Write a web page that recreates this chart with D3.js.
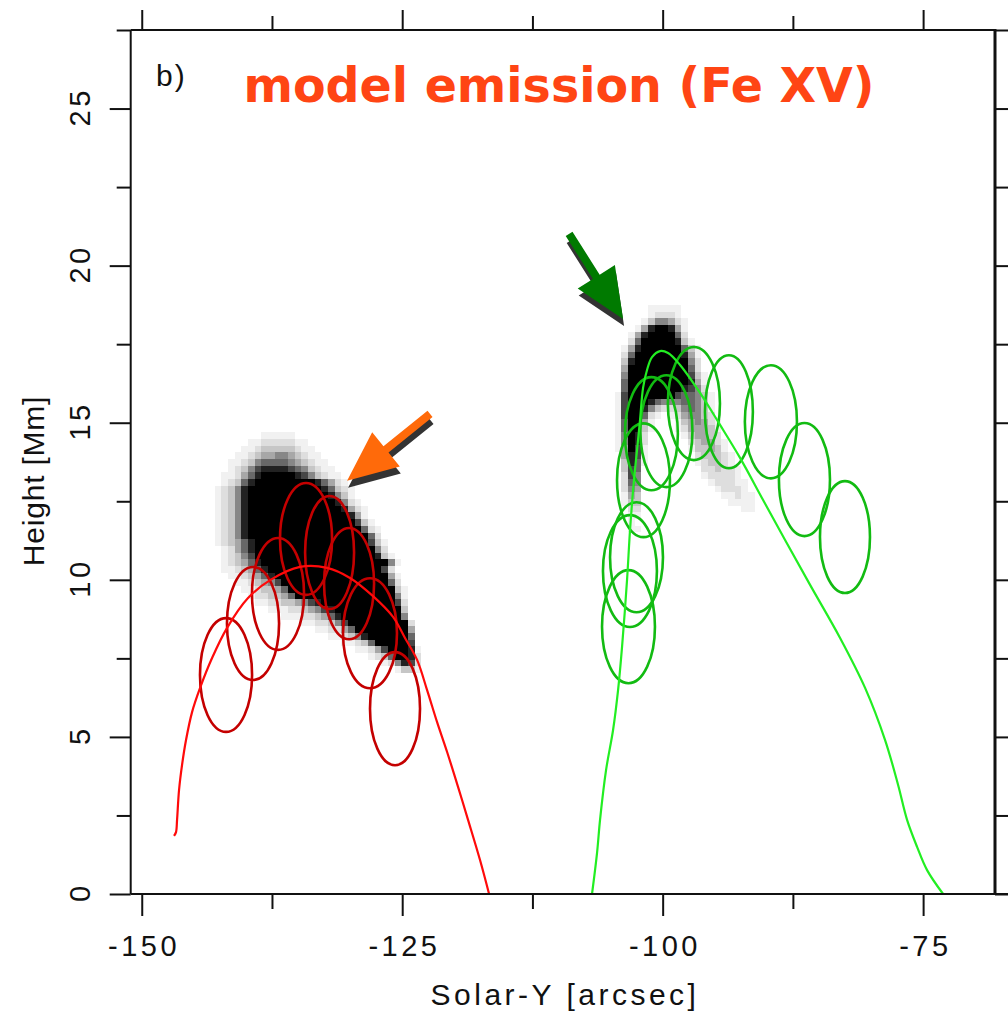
<!DOCTYPE html>
<html>
<head>
<meta charset="utf-8">
<script src="https://cdn.jsdelivr.net/npm/d3@7"></script>
<style>
  body { margin: 0; background: #ffffff; }
  text { font-family: "Liberation Sans", Arial, sans-serif; }
</style>
</head>
<body>
<div id="chart"></div>
<script>
// axis ticks
var xMajorTicks = [-150, -125, -100, -75];
var xMinorTicks = [-137.5, -112.5, -87.5];
var yMajorTicks = [0, 5, 10, 15, 20, 25];
var yMinorTicks = [2.5, 7.5, 12.5, 17.5, 22.5, 27.5];
var rightTicks = [0, 2.5, 5, 7.5, 10, 12.5, 15, 17.5, 20, 22.5, 25, 27.5];

// red loop (solar-Y arcsec, height Mm)
var redLoopX = [-146.90, -146.71, -146.61, -146.42, -146.13, -145.75, -145.17, -144.40, -143.25, -141.81,
  -139.80, -137.68, -134.81, -132.21, -130.01, -127.80, -125.88, -124.73, -123.57, -122.61,
  -121.65, -120.69, -119.64, -118.68, -117.53, -116.66];
var redLoopY = [1.85, 1.97, 2.36, 3.31, 4.11, 4.90, 5.79, 6.56, 7.51, 8.47,
  9.42, 9.99, 10.41, 10.38, 10.06, 9.48, 8.82, 8.15, 7.45, 6.49,
  5.47, 4.52, 3.41, 2.36, 1.08, 0];

// green loop
var greenLoopX = [-106.78, -106.30, -106.01, -105.43, -104.76, -104.28, -103.90, -103.42, -103.13, -102.75,
  -102.46, -102.17, -101.88, -101.50, -101.02, -100.25, -99.48, -98.33, -96.41, -94.49,
  -92.57, -90.36, -88.25, -85.85, -82.97, -80.57, -78.65, -77.40, -76.54, -75.58, -74.62, -73.08];
var greenLoopY = [0, 1.30, 2.36, 3.95, 5.22, 6.49, 7.86, 9.99, 11.59, 13.18,
  14.13, 15.09, 16.11, 16.68, 17.09, 17.28, 17.22, 16.84, 15.95, 14.93,
  13.88, 12.54, 11.27, 9.84, 8.15, 6.56, 4.90, 3.47, 2.36, 1.50, 0.76, 0];

// ellipses along the red loop
var redEllX = [-141.91, -139.32, -136.92, -134.23, -131.97, -130.10, -128.09, -125.69];
var redEllY = [6.97, 8.61, 9.55, 11.30, 10.87, 9.88, 8.30, 5.90];
var redEllRx = [2.50, 2.50, 2.50, 2.50, 2.35, 2.40, 2.59, 2.40];
var redEllRy = [1.81, 1.80, 1.78, 1.78, 1.80, 1.77, 1.75, 1.80];

// ellipses along the green loop
var greenEllX = [-103.28, -103.14, -102.51, -101.84, -101.08, -99.64, -97.00, -93.64, -89.61, -86.39, -82.50];
var greenEllY = [8.51, 10.28, 10.72, 13.17, 14.65, 14.73, 15.61, 15.35, 15.03, 13.19, 11.36];
var greenEllRx = [2.54, 2.59, 2.54, 2.54, 2.54, 2.50, 2.50, 2.30, 2.50, 2.45, 2.40];
var greenEllRy = [1.80, 1.78, 1.75, 1.81, 1.80, 1.78, 1.80, 1.80, 1.80, 1.80, 1.78];

// model emission image, intensity 0 (none) .. 9 (max), one char per pixel
var pixelW = 0.64;   // arcsec
var pixelH = 0.213;  // Mm
var redImgX0 = -143.0, redImgY0 = 14.7;
var redImg = [
  "00000001111100000000000000000000",
  "00000112222211000000000000000000",
  "00001123333321100000000000000000",
  "00011234455432110000000000000000",
  "00112356666543211000000000000000",
  "00123578888765321100000000000000",
  "01124689999987532110000000000000",
  "01236899999999986421000000000000",
  "12358999999999998632100000000000",
  "12358999999999999853100000000000",
  "12358999999999999985210000000000",
  "12358999999999999998421000000000",
  "12358999999999999999841000000000",
  "12358999999999999999973100000000",
  "12358999999999999999996210000000",
  "12358999999999999999999620000000",
  "12346899999999999999999731000000",
  "01246899999999999999999952000000",
  "01235799999999999999999983100000",
  "01234689999999999999999999510000",
  "01123468999999999999999997200000",
  "00112346899999999999999999410000",
  "00011234579999999999999999620000",
  "00001123346999999999999999931000",
  "00000122334699999999999999951000",
  "00000011223345789999999999972000",
  "00000000111223457899999999993000",
  "00000000001112234689999999995000",
  "00000000000001122357999999999200",
  "00000000000000011224699999999400",
  "00000000000000000112358999999600",
  "00000000000000000001123699999700",
  "00000000000000000000011247999810",
  "00000000000000000000000123699820",
  "00000000000000000000000001258720",
  "00000000000000000000000000013310"
];
var greenImgX0 = -104.6, greenImgY0 = 18.75;
var greenImg = [
  "00000111110000000000000",
  "00000122210000000000000",
  "00001355421000000000000",
  "00014899841000000000000",
  "00148999962000000000000",
  "00269999983100000000000",
  "01489999996310000000000",
  "02699999998410000000000",
  "03899999999520000000000",
  "04999999999620000000000",
  "05999999999731000000000",
  "06999999999841000000000",
  "06999999998752000000000",
  "17999999976653100000000",
  "17999865556653100000000",
  "17998532235653100000000",
  "17996210124553200000000",
  "16994100013454210000000",
  "16993100012444310000000",
  "15982000001344320000000",
  "15982000000234421000000",
  "14971000000133431000000",
  "04871000000023332100000",
  "03861000000012332100000",
  "03760000000002232210000",
  "02750000000001222210000",
  "02650000000000122211000",
  "02540000000000012221000",
  "01430000000000001121100",
  "01330000000000000111100",
  "00220000000000000001100",
  "00110000000000000000000",
  "00100000000000000000000",
  "00110000000000000000000"
];

// annotation arrows: tail -> tip
var arrowTailX = [-122.33, -108.98];
var arrowTailY = [15.28, 21.01];
var arrowTipX = [-130.29, -103.80];
var arrowTipY = [13.15, 18.30];

//create space for the plot
var svgWidth = 1008;
var svgHeight = 1012;

var plotLeft = 130.7, plotRight = 995, plotTop = 30, plotBottom = 894;

var svg = d3.select("#chart")
  .append("svg")
  .attr("width", svgWidth)
  .attr("height", svgHeight);

var xScale = d3.scaleLinear()
  .domain([-151.06, -68.1])
  .range([plotLeft, plotRight]);

var yScale = d3.scaleLinear()
  .domain([0, 27.5])
  .range([plotBottom, plotTop]);

var grey = d3.scaleSequential(d3.interpolateGreys).domain([0, 9]);

// emission pixels
function imageCells(rows, x0, y0) {
  var cells = [];
  rows.forEach(function(row, r) {
    row.split("").forEach(function(ch, c) {
      if (+ch > 0) cells.push({x: x0 + c * pixelW, y: y0 - r * pixelH, v: +ch});
    });
  });
  return cells;
}
var cells = imageCells(redImg, redImgX0, redImgY0).concat(imageCells(greenImg, greenImgX0, greenImgY0));

svg.append("g")
  .selectAll("rect")
  .data(cells)
  .enter()
  .append("rect")
  .attr("x", d => xScale(d.x))
  .attr("y", d => yScale(d.y))
  .attr("width", d => xScale(d.x + pixelW) - xScale(d.x))
  .attr("height", d => yScale(d.y - pixelH) - yScale(d.y))
  .attr("fill", d => grey(d.v))
  .attr("shape-rendering", "crispEdges");

// ellipses
function drawEllipses(xs, ys, rxs, rys, color) {
  svg.append("g")
    .selectAll("ellipse")
    .data(xs.map((x, i) => ({x: x, y: ys[i], rx: rxs[i], ry: rys[i]})))
    .enter()
    .append("ellipse")
    .attr("cx", d => xScale(d.x))
    .attr("cy", d => yScale(d.y))
    .attr("rx", d => xScale(d.x + d.rx) - xScale(d.x))
    .attr("ry", d => yScale(d.y) - yScale(d.y + d.ry))
    .attr("fill", "none")
    .attr("stroke", color)
    .attr("stroke-width", 2.6);
}
drawEllipses(redEllX, redEllY, redEllRx, redEllRy, "#c40000");
drawEllipses(greenEllX, greenEllY, greenEllRx, greenEllRy, "#12bb12");

// loops
var line = d3.line()
  .x(d => xScale(d[0]))
  .y(d => yScale(d[1]))
  .curve(d3.curveCatmullRom);

svg.append("path")
  .attr("d", line(d3.zip(redLoopX, redLoopY)))
  .attr("fill", "none")
  .attr("stroke", "#ff0a0a")
  .attr("stroke-width", 2.2);

svg.append("path")
  .attr("d", line(d3.zip(greenLoopX, greenLoopY)))
  .attr("fill", "none")
  .attr("stroke", "#22ee22")
  .attr("stroke-width", 2.2);

// arrows with drop shadow
function arrowPoints(x1, y1, x2, y2) {
  var dx = x2 - x1, dy = y2 - y1;
  var len = Math.sqrt(dx * dx + dy * dy);
  var ux = dx / len, uy = dy / len;
  var nx = -uy, ny = ux;
  var headLen = 50, headW = 22, shaftW = 4;
  var bx = x2 - ux * headLen, by = y2 - uy * headLen;
  return [
    [x1 + nx * shaftW, y1 + ny * shaftW],
    [bx + nx * shaftW, by + ny * shaftW],
    [bx + nx * headW, by + ny * headW],
    [x2, y2],
    [bx - nx * headW, by - ny * headW],
    [bx - nx * shaftW, by - ny * shaftW],
    [x1 - nx * shaftW, y1 - ny * shaftW]
  ];
}
var arrowColors = ["#ff6a0a", "#007a00"];
arrowTailX.forEach(function(tx, i) {
  var pts = arrowPoints(xScale(tx), yScale(arrowTailY[i]), xScale(arrowTipX[i]), yScale(arrowTipY[i]));
  svg.append("polygon")
    .attr("points", pts.map(p => [p[0] + 1, p[1] + 7].join(",")).join(" "))
    .attr("fill", "#333333");
  svg.append("polygon")
    .attr("points", pts.map(p => p.join(",")).join(" "))
    .attr("fill", arrowColors[i]);
});

// axes frame
var axisColor = "#111111";
svg.append("line").attr("x1", plotLeft).attr("x2", plotLeft).attr("y1", plotTop).attr("y2", plotBottom)
  .attr("stroke", axisColor).attr("stroke-width", 2);
svg.append("line").attr("x1", plotLeft).attr("x2", svgWidth).attr("y1", plotBottom).attr("y2", plotBottom)
  .attr("stroke", axisColor).attr("stroke-width", 2);
svg.append("line").attr("x1", plotLeft).attr("x2", plotRight).attr("y1", plotTop).attr("y2", plotTop)
  .attr("stroke", axisColor).attr("stroke-width", 2);
svg.append("line").attr("x1", plotRight).attr("x2", plotRight).attr("y1", plotTop - 1).attr("y2", plotBottom + 1)
  .attr("stroke", axisColor).attr("stroke-width", 3);

function tickAxis(axis, transform) {
  var g = svg.append("g").attr("transform", transform).call(axis);
  g.select(".domain").remove();
  g.selectAll("line").attr("stroke", axisColor).attr("stroke-width", 2);
  return g;
}

// bottom
var bottomMajor = tickAxis(d3.axisBottom(xScale).tickValues(xMajorTicks).tickSize(22).tickPadding(19)
  .tickFormat(d => String(d)), `translate(0, ${plotBottom})`);
bottomMajor.selectAll("text")
  .style("font-family", '"Liberation Sans", Arial, sans-serif')
  .style("font-size", "29px")
  .style("letter-spacing", "3.5px")
  .attr("dx", "1.75px")
  .attr("fill", "#111");
tickAxis(d3.axisBottom(xScale).tickValues(xMinorTicks).tickSize(15).tickFormat(""), `translate(0, ${plotBottom})`);

// top
tickAxis(d3.axisTop(xScale).tickValues(xMajorTicks).tickSize(20).tickFormat(""), `translate(0, ${plotTop})`);
tickAxis(d3.axisTop(xScale).tickValues(xMinorTicks).tickSize(14).tickFormat(""), `translate(0, ${plotTop})`);

// left
tickAxis(d3.axisLeft(yScale).tickValues(yMajorTicks).tickSize(21).tickFormat(""), `translate(${plotLeft}, 0)`);
tickAxis(d3.axisLeft(yScale).tickValues(yMinorTicks).tickSize(14).tickFormat(""), `translate(${plotLeft}, 0)`);

// right
tickAxis(d3.axisRight(yScale).tickValues(rightTicks).tickSize(svgWidth - plotRight).tickFormat(""), `translate(${plotRight}, 0)`);

// rotated y tick labels
svg.append("g")
  .selectAll("text")
  .data(yMajorTicks)
  .enter()
  .append("text")
  .attr("transform", d => `translate(90, ${yScale(d)}) rotate(-90)`)
  .attr("dx", "1.75px")
  .style("text-anchor", "middle")
  .style("font-size", "29px")
  .style("letter-spacing", "3.5px")
  .attr("fill", "#111")
  .text(d => d);

// axis titles
svg.append("text")
  .attr("x", 565)
  .attr("y", 1005)
  .style("text-anchor", "middle")
  .style("font-size", "30px")
  .style("letter-spacing", "3.5px")
  .attr("fill", "#111")
  .text("Solar-Y [arcsec]");

svg.append("text")
  .attr("transform", "translate(44, 481) rotate(-90)")
  .style("text-anchor", "middle")
  .style("font-size", "30px")
  .style("letter-spacing", "0.8px")
  .attr("fill", "#111")
  .text("Height [Mm]");

// panel label and title
svg.append("text")
  .attr("x", 156)
  .attr("y", 86)
  .style("font-size", "30px")
  .style("letter-spacing", "2px")
  .attr("fill", "#111")
  .text("b)");

svg.append("text")
  .attr("x", 559)
  .attr("y", 102)
  .style("text-anchor", "middle")
  .style("font-family", '"DejaVu Sans", sans-serif')
  .style("font-weight", "bold")
  .style("font-size", "47.5px")
  .attr("fill", "#ff4514")
  .text("model emission (Fe XV)");
</script>
</body>
</html>
